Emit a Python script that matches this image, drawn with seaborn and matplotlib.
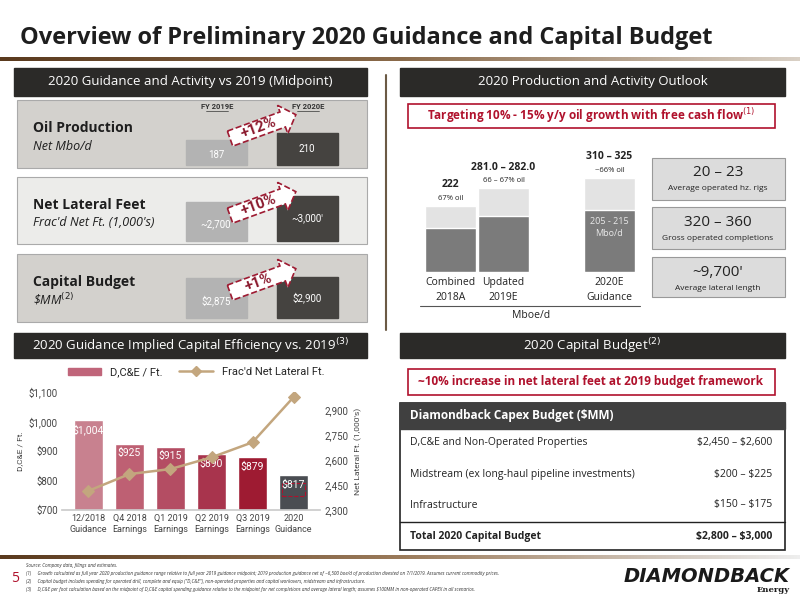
import matplotlib
matplotlib.use("Agg")
import matplotlib.pyplot as plt
import seaborn as sns
import pandas as pd
import numpy as np
from matplotlib.patches import Rectangle, Polygon
from matplotlib.lines import Line2D
from matplotlib.transforms import Affine2D

sns.set_theme(style="white")
plt.rcParams['font.family'] = ['Open Sans', 'DejaVu Sans']
NARROW = ['Roboto', 'DejaVu Sans']

# ---- data ----
eff_periods = ["12/2018\nGuidance", "Q4 2018\nEarnings", "Q1 2019\nEarnings",
               "Q2 2019\nEarnings", "Q3 2019\nEarnings", "2020\nGuidance"]
dce_per_ft = [1004, 925, 915, 890, 879, 817]
net_lateral_ft = [2415, 2515, 2545, 2615, 2705, 2975]
dce_labels = ["$1,004", "$925", "$915", "$890", "$879", "$817"]

prod_cats = ["Combined\n2018A", "Updated\n2019E", "", "2020E\nGuidance"]
prod_total = [222, 281.5, None, 317.5]
prod_oil = [148.7, 188, None, 210]
prod_top_labels = ["222", "281.0 – 282.0", None, "310 – 325"]
prod_sub_labels = ["67% oil", "66 – 67% oil", None, "~66% oil"]

capex_items = ["D,C&E and Non-Operated Properties",
               "Midstream (ex long-haul pipeline investments)",
               "Infrastructure", "Total 2020 Capital Budget"]
capex_ranges = [r"\$2,450 – \$2,600", r"\$200 – \$225", r"\$150 – \$175", r"\$2,800 – \$3,000"]

metrics = ["Oil Production", "Net Lateral Feet", "Capital Budget"]
metric_units = ["Net Mbo/d", "Frac'd Net Ft. (1,000's)", r"\$MM$^{(2)}$"]
fy2019 = ["187", "~2,700", "$2,875"]
fy2020 = ["210", "~3,000'", "$2,900"]
growth = ["+12%", "+10%", "+1%"]

kpi_big = ["20 – 23", "320 – 360", "~9,700'"]
kpi_small = ["Average operated hz. rigs", "Gross operated completions", "Average lateral length"]

W, H = 800, 600
fig = plt.figure(figsize=(8, 6), dpi=100)
bg = fig.add_axes([0, 0, 1, 1])
bg.set_xlim(0, W); bg.set_ylim(H, 0); bg.axis("off")

def pax(x0, y0, x1, y1):
    return fig.add_axes([x0 / W, 1 - y1 / H, (x1 - x0) / W, (y1 - y0) / H])

RED = "#b0122d"
DARK = "#2b2a28"

bg.text(20, 38, "Overview of Preliminary 2020 Guidance and Capital Budget", fontsize=17,
        fontweight="bold", color="#1e1e1e", va="center")
grad = np.linspace(0, 1, 256).reshape(1, -1)
bg.imshow(grad, extent=[0, 800, 61, 57], cmap=matplotlib.colors.LinearSegmentedColormap.from_list(
    "b", ["#5a3a1e", "#8a6a4a", "#d9d0c5"]), aspect="auto", zorder=1)
bg.imshow(grad, extent=[0, 800, 559, 555], cmap=matplotlib.colors.LinearSegmentedColormap.from_list(
    "b2", ["#5a3a1e", "#9a7a5a", "#eeeeee"]), aspect="auto", zorder=1)
bg.set_xlim(0, W); bg.set_ylim(H, 0)

def header(x0, x1, y0, y1, txt):
    bg.add_patch(Rectangle((x0, y0), x1 - x0, y1 - y0, color=DARK))
    bg.text((x0 + x1) / 2, (y0 + y1) / 2, txt, color="white", fontsize=9.5, ha="center", va="center")

header(14, 367, 68, 96, "2020 Guidance and Activity vs 2019 (Midpoint)")
header(400, 785, 68, 96, "2020 Production and Activity Outlook")
header(14, 367, 333, 358, "2020 Guidance Implied Capital Efficiency vs. 2019$^{(3)}$")
header(400, 785, 333, 358, "2020 Capital Budget$^{(2)}$")
bg.plot([386, 386], [75, 330], color="#6b5a45", lw=1.5)

# ---- top-left panels ----
panel_y = [(100, 168), (177, 244), (254, 322)]
panel_c = ["#d3d1cd", "#ececea", "#d3d1cd"]
box_l = [(140, 165), (202, 241), (278, 318)]
box_r = [(133, 165), (196, 241), (277, 318)]
bg.text(217, 109, "FY 2019E", fontsize=5.5, fontweight="bold", ha="center", color="#333", family=NARROW)
bg.text(308, 109, "FY 2020E", fontsize=5.5, fontweight="bold", ha="center", color="#333", family=NARROW)
bg.plot([206, 228], [110.5, 110.5], color="#333", lw=0.5)
bg.plot([297, 319], [110.5, 110.5], color="#333", lw=0.5)
for i in range(3):
    y0, y1 = panel_y[i]
    bg.add_patch(Rectangle((17, y0), 350, y1 - y0, facecolor=panel_c[i], edgecolor="#aaa", lw=0.8))
    bg.text(33, y0 + 28, metrics[i], fontsize=10, fontweight="bold", color="#1e1e1e", va="center")
    bg.text(33, y0 + 46, metric_units[i], fontsize=9, style="italic", color="#1e1e1e", va="center")
    bg.add_patch(Rectangle((186, box_l[i][0]), 61, box_l[i][1] - box_l[i][0], color="#b3b3b3"))
    bg.add_patch(Rectangle((277, box_r[i][0]), 61, box_r[i][1] - box_r[i][0], color="#454340"))
    bg.text(216, (box_l[i][0] + box_l[i][1]) / 2 + 3, fy2019[i], fontsize=7, color="white", ha="center",
            va="center", family=NARROW)
    bg.text(307, (box_r[i][0] + box_r[i][1]) / 2, fy2020[i], fontsize=7, color="white", ha="center",
            va="center", family=NARROW)
    cx, cy = 262, y0 + 27
    shape = np.array([[-34, -8], [22, -8], [22, -15], [36, 0], [22, 15], [22, 8], [-34, 8]])
    tr = Affine2D().rotate_deg(-20).translate(cx, cy)
    pts = tr.transform(shape)
    bg.add_patch(Polygon(pts, closed=True, facecolor="white", edgecolor="#9e1b32", lw=1.2, ls="--"))
    bg.text(cx - 3, cy + 1, growth[i], fontsize=11, fontweight="bold", color="#8b1a2e",
            rotation=20, ha="center", va="center", family=NARROW)

# ---- top-right ----
def redbox(y0, y1, txt):
    bg.add_patch(Rectangle((408, y0), 367, y1 - y0, facecolor="white", edgecolor=RED, lw=1.2))
    bg.text(591, (y0 + y1) / 2, txt, fontsize=8.5, fontweight="bold", color=RED, ha="center", va="center")

redbox(104, 128, "Targeting 10% - 15% y/y oil growth with free cash flow$^{(1)}$")
redbox(369, 395, "~10% increase in net lateral feet at 2019 budget framework")

pdf = pd.DataFrame({"cat": prod_cats, "total": prod_total, "oil": prod_oil})
axp = pax(424, 150, 636, 272)
sns.barplot(data=pdf, x="cat", y="total", order=prod_cats, color="#e3e3e3", width=0.95, ax=axp, saturation=1)
sns.barplot(data=pdf, x="cat", y="oil", order=prod_cats, color="#7b7b7b", width=0.95, ax=axp, saturation=1)
axp.set_ylim(0, 410)
axp.set_xlim(-0.5, 3.5)
axp.axis("off")
for i, c in enumerate(prod_cats):
    if prod_total[i] is None:
        continue
    axp.text(i, prod_total[i] + 62, prod_top_labels[i], fontsize=7.5, fontweight="bold",
             ha="center", color="#222")
    axp.text(i, prod_total[i] + 20, prod_sub_labels[i], fontsize=5.5, ha="center", color="#222")
    axp.text(i, -18, c, fontsize=7.5, ha="center", va="top", color="#222", clip_on=False,
             linespacing=1.4)
axp.text(3, 150, "205 - 215\nMbo/d", fontsize=6.5, color="#e8e8e8", ha="center", va="center", linespacing=1.5)
bg.plot([420, 640], [306, 306], color="#555", lw=0.8)
bg.text(531, 316, "Mboe/d", fontsize=7.5, ha="center", va="center", color="#222")

kpi_y = [(158, 200), (207, 249), (257, 297)]
for i in range(3):
    y0, y1 = kpi_y[i]
    bg.add_patch(Rectangle((652, y0), 133, y1 - y0, facecolor="#dcdcdc", edgecolor="#999", lw=0.8))
    bg.text(718, y0 + 15, kpi_big[i], fontsize=11, ha="center", va="center", color="#222")
    bg.text(718, y0 + 31, kpi_small[i], fontsize=6, ha="center", va="center", color="#222")

# ---- bottom-left combo chart ----
edf = pd.DataFrame({"period": eff_periods, "dce": dce_per_ft, "lat": net_lateral_ft})
bar_cols = ["#c8818f", "#be6073", "#b44d63", "#a8344d", "#9e1b32", "#4a4d52"]
axe = pax(62, 392, 320, 510)
sns.barplot(data=edf, x="period", y="dce", hue="period", palette=bar_cols, legend=False,
            width=0.72, ax=axe, saturation=1)
axe.set_ylim(700, 1100)
axe.set_yticks([700, 800, 900, 1000, 1100])
axe.set_yticklabels(["$700", "$800", "$900", "$1,000", "$1,100"], fontsize=7, color="#444", family=NARROW)
axe.set_xticks(range(6))
axe.set_xticklabels(eff_periods, fontsize=6.5, color="#444", family=NARROW)
axe.set_xlabel(""); axe.set_ylabel("D,C&E / Ft.", fontsize=6, color="#444", family=NARROW)
for s in ["top", "right", "left"]:
    axe.spines[s].set_visible(False)
axe.spines["bottom"].set_color("#ccc")
axe.tick_params(length=0, pad=3)
for i, v in enumerate(dce_per_ft):
    axe.text(i, v - 32, dce_labels[i], color="white", fontsize=7.5, ha="center", va="center", family=NARROW)
axe.add_patch(Rectangle((5 - 0.28, 748), 0.56, 44, fill=False, edgecolor=RED, ls="--", lw=0.8))
ax2 = axe.twinx()
sns.lineplot(data=edf, x="period", y="lat", marker="D", color="#c3a67e", markersize=6,
             markeredgecolor="#c3a67e", lw=1.8, ax=ax2)
ax2.set_ylim(2300, 3006)
ax2.set_yticks([2300, 2450, 2600, 2750, 2900])
ax2.set_yticklabels(["2,300", "2,450", "2,600", "2,750", "2,900"], fontsize=7, color="#444", family=NARROW)
ax2.set_ylabel("Net Lateral Ft. (1,000's)", fontsize=6, color="#444", family=NARROW)
for s in ["top", "right", "left", "bottom"]:
    ax2.spines[s].set_visible(False)
ax2.tick_params(length=0, pad=3)
handles = [Rectangle((0, 0), 1, 1, color="#c0657a"),
           Line2D([0], [0], color="#c3a67e", marker="D", lw=1.8, markersize=5)]
axe.legend(handles, ["D,C&E / Ft.", "Frac'd Net Lateral Ft."], loc="lower center",
           bbox_to_anchor=(0.52, 1.04), ncol=2, frameon=False, prop={"family": NARROW, "size": 8},
           handlelength=3, columnspacing=1.5)

# ---- bottom-right table ----
bg.add_patch(Rectangle((400, 403), 385, 147, facecolor="white", edgecolor="#222", lw=1.2))
bg.add_patch(Rectangle((400, 403), 385, 26, color="#404040"))
bg.text(410, 416, "Diamondback Capex Budget ($MM)", fontsize=8.5, fontweight="bold", color="white", va="center")
row_y = [443, 474, 505, 537]
for i in range(4):
    fw = "bold" if i == 3 else "normal"
    bg.text(410, row_y[i], capex_items[i], fontsize=7.5, fontweight=fw, color="#222", va="center")
    bg.text(772, row_y[i], capex_ranges[i], fontsize=7.5, fontweight=fw, color="#222", va="center", ha="right")
bg.plot([400, 785], [522, 522], color="#222", lw=1)

# ---- footer ----
bg.text(11, 578, "5", fontsize=10, color=RED, va="center")
foot = ["Source: Company data, filings and estimates.",
        "(1)     Growth calculated as full year 2020 production guidance range relative to full year 2019 guidance midpoint; 2019 production guidance net of ~6,500 boe/d of production divested on 7/1/2019. Assumes current commodity prices.",
        "(2)     Capital budget includes spending for operated drill, complete and equip (\"D,C&E\"), non-operated properties and capital workovers, midstream and infrastructure.",
        "(3)     D,C&E per foot calculation based on the midpoint of D,C&E capital spending guidance relative to the midpoint for net completions and average lateral length; assumes $100MM in non-operated CAPEX in all scenarios."]
for i, t in enumerate(foot):
    bg.text(26, 566 + i * 8, t, fontsize=3.3, style="italic", color="#333", va="center")
bg.text(790, 576, "DIAMONDBACK", fontsize=14, fontweight="black", style="italic", color="#1a1a1a",
        ha="right", va="center", family="DejaVu Sans")
bg.text(790, 590, "Energy", fontsize=6, fontweight="bold", color="#1a1a1a", ha="right", va="center",
        family="DejaVu Serif")

fig.savefig("out.png", dpi=100)
